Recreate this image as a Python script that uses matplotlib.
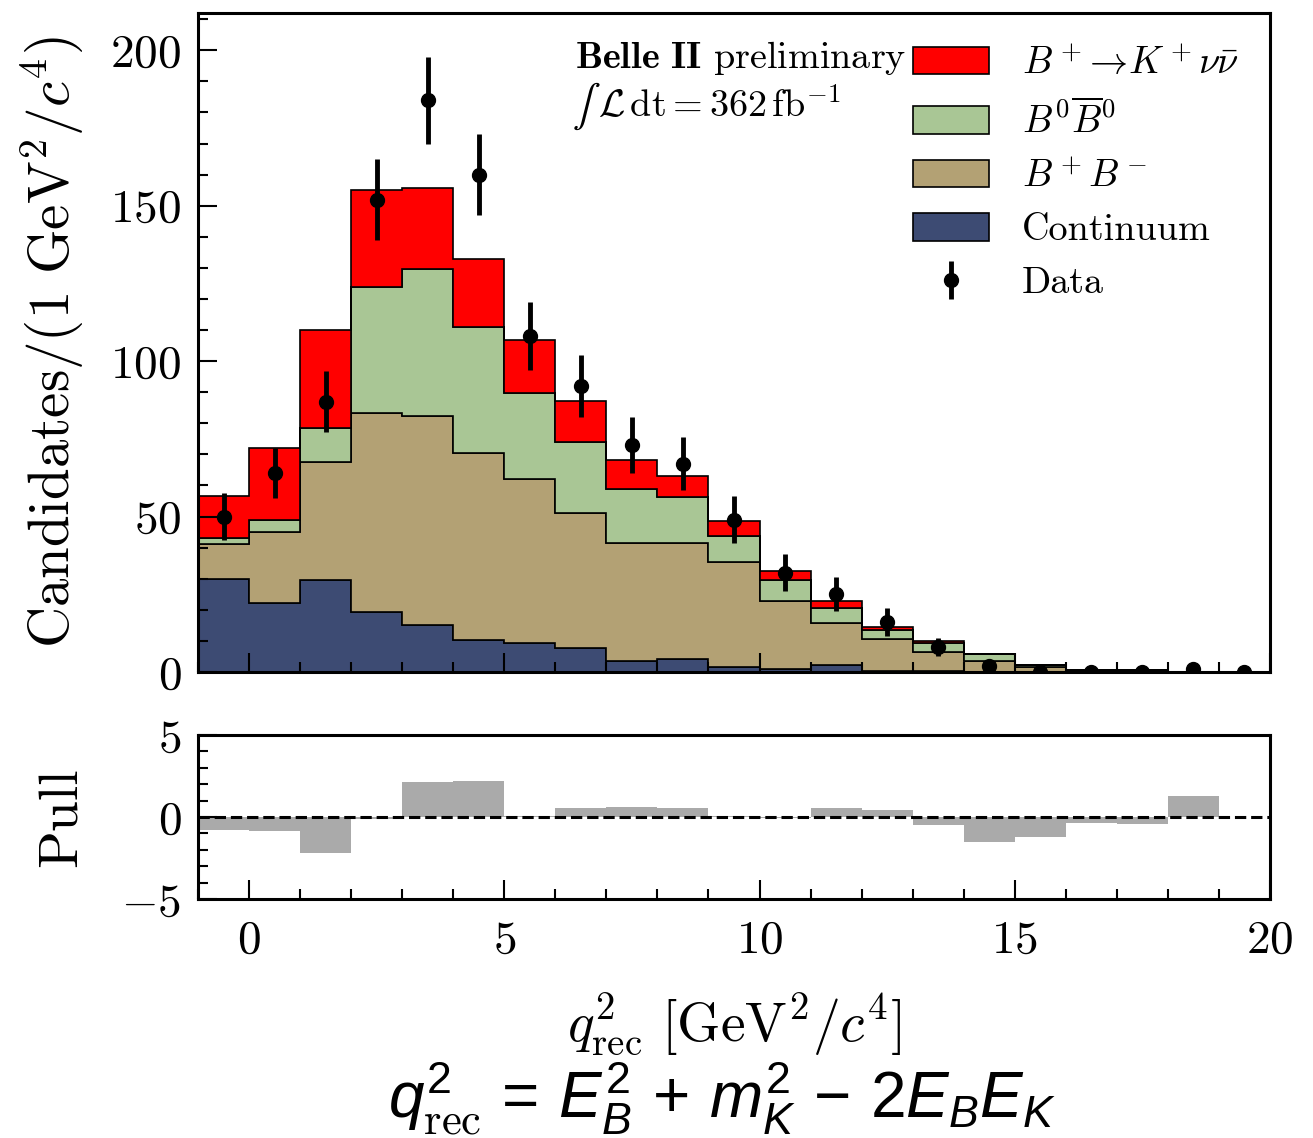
import numpy as np
import matplotlib
matplotlib.use('Agg')
import matplotlib.pyplot as plt
from matplotlib.patches import Patch
from matplotlib.ticker import MultipleLocator

# ---------------- data ----------------
bin_edges = list(range(-1, 21))
continuum = [30.0, 22.3, 29.5, 19.2, 15.1, 10.3, 9.4, 7.6, 3.5, 4.3, 1.5, 1.1, 2.3, 0.3, 0.2, 0.1, 0.0, 0.0, 0.0, 0.0, 0.0]
charged   = [11.1, 22.7, 37.9, 64.0, 67.1, 60.1, 52.7, 43.7, 37.9, 37.3, 33.8, 21.9, 13.6, 10.4, 6.2, 3.4, 1.5, 0.6, 0.7, 0.0, 0.0]
mixed     = [1.9, 4.0, 11.2, 40.7, 47.3, 40.5, 27.8, 22.8, 17.6, 14.7, 8.6, 6.5, 4.8, 2.8, 3.0, 2.3, 0.6, 0.1, 0.1, 0.0, 0.0]
signal    = [13.7, 23.0, 31.5, 31.0, 26.2, 22.0, 17.0, 13.1, 9.3, 6.6, 4.6, 3.0, 2.0, 0.9, 0.6, 0.1, 0.2, 0.0, 0.0, 0.0, 0.0]
data      = [50, 64, 87, 152, 184, 160, 108, 92, 73, 67, 49, 32, 25, 16, 8, 2, 0, 0, 0, 1, 0]
data_err  = [7.5, 8.0, 9.7, 13.0, 14.0, 13.0, 11.0, 10.0, 9.0, 8.6, 7.5, 6.0, 5.5, 4.5, 3.0, 1.5, 0.0, 0.0, 0.0, 1.0, 0.0]
pull      = [-0.77, -0.85, -2.2, -0.14, 2.13, 2.21, 0.05, 0.55, 0.61, 0.55, 0.05, -0.05, 0.55, 0.45, -0.47, -1.5, -1.24, -0.39, -0.43, 1.26, 0.0]

labels = [r'$B^+\!\rightarrow\! K^+\nu\bar{\nu}$', r'$B^0\overline{B}^0$', r'$B^+B^-$', 'Continuum', 'Data']
colors = {'signal': '#ff0000', 'mixed': '#a9c695', 'charged': '#b3a174', 'continuum': '#3d4b73'}

# ---------------- style ----------------
plt.rcParams.update({
    'font.family': 'serif',
    'font.serif': ['cmr10'],
    'mathtext.fontset': 'cm',
    'axes.formatter.use_mathtext': True,
    'mathtext.rm': 'Liberation Sans',
    'mathtext.it': 'Liberation Sans:italic',
    'mathtext.sf': 'Liberation Sans',
    'mathtext.tt': 'cmr10',
    'axes.unicode_minus': True,
})

W, H = 1313, 1138
fig = plt.figure(figsize=(W / 100, H / 100), dpi=100)

def fx(px):
    return px / W

def fy(py):
    return 1 - py / H

ax = fig.add_axes([fx(198), fy(672), fx(1270) - fx(198), fy(13) - fy(672)])
ax2 = fig.add_axes([fx(198), fy(899), fx(1270) - fx(198), fy(735) - fy(899)], sharex=ax)

edges = np.array(bin_edges, dtype=float)
centers = 0.5 * (edges[:-1] + edges[1:])

base = np.zeros(len(centers))
handles = {}
for key, vals in [('continuum', continuum), ('charged', charged), ('mixed', mixed), ('signal', signal)]:
    top = base + np.array(vals)
    ax.stairs(top, edges, baseline=base, fill=True, facecolor=colors[key],
              edgecolor='black', linewidth=1.2)
    handles[key] = Patch(facecolor=colors[key], edgecolor='black', linewidth=1.2)
    base = top

eb = ax.errorbar(centers, data, yerr=data_err, fmt='o', color='black', ms=10,
                 elinewidth=3.5, capsize=0, zorder=5)

ax.set_xlim(-1, 20)
ax.set_ylim(0, 212)

leg = ax.legend([handles['signal'], handles['mixed'], handles['charged'], handles['continuum'], eb],
                labels, loc='upper left', bbox_to_anchor=(fx(913), fy(45)),
                bbox_transform=fig.transFigure, frameon=False, fontsize=27.5,
                handlelength=2.0, handleheight=0.73, handletextpad=0.85,
                labelspacing=0.5, borderpad=0, borderaxespad=0)

ax.text(fx(575), fy(68), r'$\mathbf{Belle\ II}$ preliminary', transform=fig.transFigure,
        fontsize=27.5, ha='left', va='baseline')
ax.text(fx(573), fy(117), '\u222b', transform=fig.transFigure, family='STIXGeneral',
        fontsize=30, ha='left', va='baseline')
ax.text(fx(598), fy(117), r'$\mathcal{L}\,\mathrm{dt} = 362\,\mathrm{fb}^{\mathrm{-}1}$', transform=fig.transFigure,
        fontsize=27.5, ha='left', va='baseline')

# pull panel
ax2.stairs(pull, edges, baseline=0, fill=True, color='#aaaaaa')
ax2.axhline(0, color='black', ls='--', lw=2.2)
ax2.set_ylim(-5, 5)

for a in (ax, ax2):
    a.tick_params(which='both', direction='in', top=False, right=False, width=1.5, labelsize=34)
    a.tick_params(which='major', length=14)
    a.tick_params(which='minor', length=7)
    a.tick_params(axis='y', pad=12)
    a.tick_params(axis='x', pad=15)
    a.xaxis.set_major_locator(MultipleLocator(5))
    a.xaxis.set_minor_locator(MultipleLocator(1))
    for s in a.spines.values():
        s.set_linewidth(2.2)

ax.yaxis.set_major_locator(MultipleLocator(50))
ax.yaxis.set_minor_locator(MultipleLocator(10))
ax.tick_params(labelbottom=False)
ax2.yaxis.set_major_locator(MultipleLocator(5))
ax2.yaxis.set_minor_locator(MultipleLocator(1))

ax.set_ylabel(r'Candidates$/(1\ \mathrm{GeV}^2/c^4)$', fontsize=41)
ax.yaxis.set_label_coords(-0.105, 0.5)
ax2.set_ylabel('Pull', fontsize=40)
ax2.yaxis.set_label_coords(-0.103, 0.5)
ax2.set_xlabel(r'$q^2_{\mathrm{rec}}\ [\mathrm{GeV}^2/c^4]$', fontsize=40)
ax2.xaxis.set_label_coords(0.5, -0.56)

fig.text(fx(722), fy(1098),
         r'$q^{2}_{\mathtt{rec}}\,=\,E^{2}_{B}\,+\,m^{2}_{K}\,-\,2E_{B}E_{K}$',
         ha='center', va='center', fontsize=46, math_fontfamily='custom')

fig.savefig('out.png', dpi=100)
